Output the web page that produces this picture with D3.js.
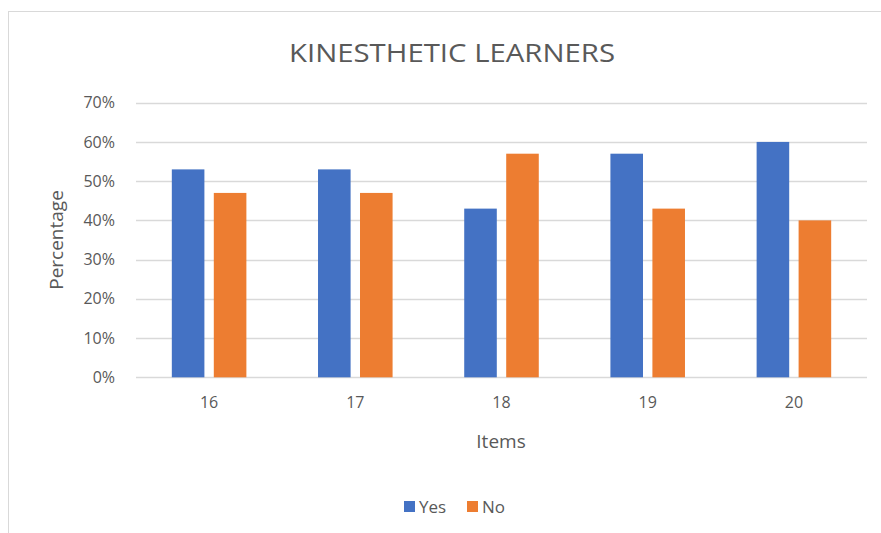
<!DOCTYPE html>
<html>
<head>
<meta charset="utf-8">
<script src="https://cdn.jsdelivr.net/npm/d3@7"></script>
<style>
  body { margin: 0; background: #fff; }
  text { font-family: "Open Sans", "DejaVu Sans", sans-serif; fill: #595959; }
</style>
</head>
<body>
<script>
var items = ["16", "17", "18", "19", "20"];
var seriesNames = ["Yes", "No"];
var yesValues = [0.53, 0.53, 0.43, 0.57, 0.60];
var noValues = [0.47, 0.47, 0.57, 0.43, 0.40];
var yTicks = [0, 0.1, 0.2, 0.3, 0.4, 0.5, 0.6, 0.7];
var colors = ["#4472C4", "#ED7D31"];

var w = 881, h = 533;
var plotLeft = 136, plotRight = 867, plotTop = 102.7, plotBottom = 377.3;

var svg = d3.select("body").append("svg")
    .attr("width", w)
    .attr("height", h);

// chart border
svg.append("rect")
    .attr("x", 8.5).attr("y", 11.5)
    .attr("width", 900).attr("height", 600)
    .attr("fill", "none")
    .attr("stroke", "#d9d9d9")
    .attr("stroke-width", 1);

var x = d3.scaleBand().domain(items).range([plotLeft, plotRight]);
var xInner = d3.scaleBand().domain(seriesNames)
    .range([x.bandwidth() * 0.245, x.bandwidth() * 0.755])
    .paddingInner(0.224);
var y = d3.scaleLinear().domain([0, 0.7]).range([plotBottom, plotTop]);

// gridlines
svg.append("g").selectAll("line")
    .data(yTicks)
    .enter().append("line")
    .attr("x1", plotLeft).attr("x2", plotRight)
    .attr("y1", function(d) { return Math.round(y(d)) + 0.5; })
    .attr("y2", function(d) { return Math.round(y(d)) + 0.5; })
    .attr("stroke", "#d9d9d9")
    .attr("stroke-width", 1.3);

// y axis labels
var yAxis = d3.axisLeft(y).tickValues(yTicks).tickFormat(d3.format(".0%")).tickSize(0).tickPadding(0);
var ya = svg.append("g").attr("transform", "translate(115,0)").call(yAxis);
ya.select(".domain").remove();
ya.selectAll("text").style("font-size", "16px").attr("fill", "#595959")
    .style("font-family", "'Open Sans', sans-serif");

// bars
var rows = items.map(function(it, i) { return { item: it, vals: [yesValues[i], noValues[i]] }; });
var groups = svg.append("g").selectAll("g")
    .data(rows)
    .enter().append("g")
    .attr("transform", function(d) { return "translate(" + x(d.item) + ",0)"; });

groups.selectAll("rect")
    .data(function(d) { return d.vals.map(function(v, k) { return { name: seriesNames[k], v: v, k: k }; }); })
    .enter().append("rect")
    .attr("x", function(d) { return xInner(d.name); })
    .attr("width", xInner.bandwidth())
    .attr("y", function(d) { return y(d.v); })
    .attr("height", function(d) { return plotBottom - y(d.v); })
    .attr("fill", function(d) { return colors[d.k]; });

// x axis labels
var xAxis = d3.axisBottom(x).tickSize(0).tickPadding(0);
var xa = svg.append("g").attr("transform", "translate(0,397)").call(xAxis);
xa.select(".domain").remove();
xa.selectAll("text").style("font-size", "16px").attr("fill", "#595959")
    .style("font-family", "'Open Sans', sans-serif");

// title
svg.append("text")
    .attr("x", 452).attr("y", 62)
    .attr("text-anchor", "middle")
    .style("font-size", "25px")
    .attr("textLength", 326)
    .attr("lengthAdjust", "spacingAndGlyphs")
    .text("KINESTHETIC LEARNERS");

// axis titles
svg.append("text")
    .attr("x", 501).attr("y", 448)
    .attr("text-anchor", "middle")
    .style("font-size", "19px")
    .text("Items");

svg.append("text")
    .attr("transform", "translate(63,240) rotate(-90)")
    .attr("text-anchor", "middle")
    .style("font-size", "19px")
    .text("Percentage");

// legend
var legend = svg.append("g").attr("transform", "translate(404,501)");
var lx = [0, 63];
seriesNames.forEach(function(name, i) {
    legend.append("rect")
        .attr("x", lx[i]).attr("y", 0)
        .attr("width", 11).attr("height", 11)
        .attr("fill", colors[i]);
    legend.append("text")
        .attr("x", lx[i] + 15).attr("y", 12)
        .style("font-size", "17px")
        .text(name);
});
</script>
</body>
</html>
